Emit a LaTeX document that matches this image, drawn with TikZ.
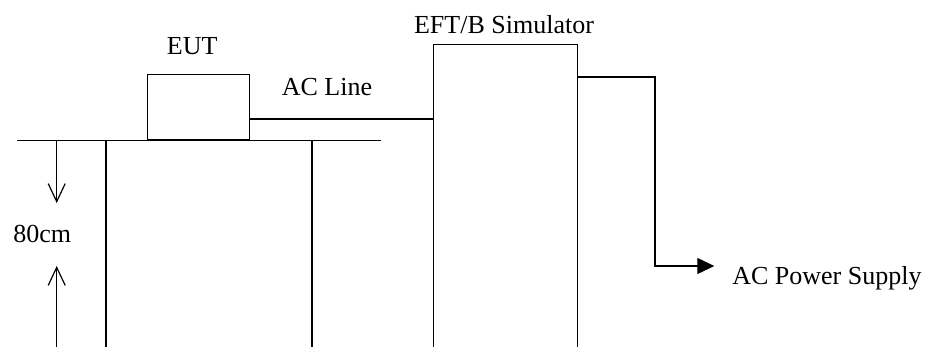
\documentclass[tikz,border=0pt]{standalone}
\usepackage{fontspec}
\setmainfont{Liberation Serif}
\usetikzlibrary{arrows.meta,calc}
\begin{document}
\begin{tikzpicture}[x=1pt,y=-1pt,line width=1.2pt,
  box/.style={draw,rectangle,inner sep=0pt,outer sep=0pt},
  lbl/.style={inner sep=0pt,anchor=base,font=\fontsize{26}{30}\selectfont},
  openarrow/.style={-{Straight Barb[length=18pt,width=17pt,line width=1.2pt]}},
  fillarrow/.style={-{Triangle[length=17pt,width=16pt]}}]
\useasboundingbox (0,0) rectangle (936,347);
\clip (0,0) rectangle (936,347);
% boxes
\node[box,minimum width=102pt,minimum height=65.7pt] (eut) at (198.3,107.2) {};
\node[box,minimum width=144pt,minimum height=330pt] (eft) at (505.3,209.3) {};
% labels
\node[lbl] (eutl) at (192.2,54.3) {EUT};
\node[lbl] (acl) at (327,95.7) {AC Line};
\node[lbl] (eftl) at (504,33.3) {EFT/B Simulator};
\node[lbl,anchor=base west] (psu) at (731.7,284) {AC Power Supply};
\node[lbl] (dim) at (42.2,242.7) {80cm};
% table
\coordinate (tl) at (17,140.7);
\coordinate (tr) at (380.7,140.7);
\draw (tl) -- (tr);
\coordinate (leg1) at (106,140.7);
\coordinate (leg2) at (312,140.7);
\draw (leg1) -- (106,360);
\draw (leg2) -- (312,360);
% dimension arrows
\coordinate (dtop) at (56.7,140.7);
\coordinate (dtip1) at (56.7,203);
\coordinate (dbot) at (56.7,360);
\coordinate (dtip2) at (56.7,266);
\draw[openarrow] (dtop) -- (dtip1);
\draw[openarrow] (dbot) -- (dtip2);
% AC line
\draw (eut.south east) ++(0,-21) coordinate (aca) -- (aca -| eft.west);
% power supply
\coordinate (bend) at (655,266);
\coordinate (tip) at (714.3,266);
\draw[fillarrow] (eft.north east) ++(0,32.7) coordinate (pso) -- (pso -| bend) -- (bend) -- (tip);
\end{tikzpicture}
\end{document}
